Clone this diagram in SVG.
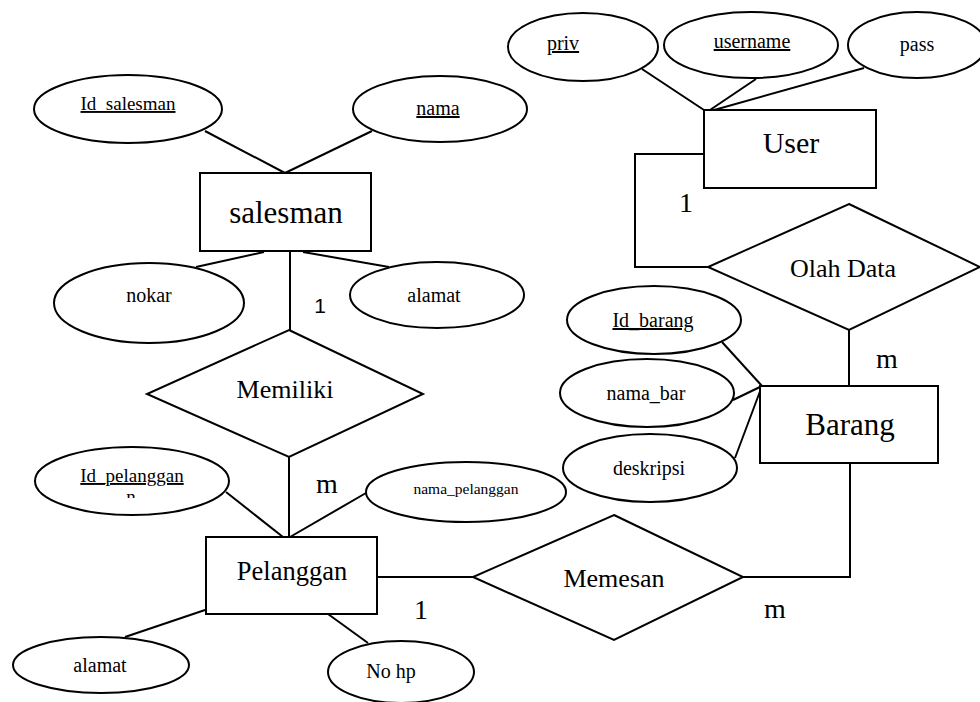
<svg xmlns="http://www.w3.org/2000/svg" width="980" height="702" viewBox="0 0 980 702">
  <style>
    .shape { fill: #ffffff; stroke: #000000; stroke-width: 2; }
    .conn { fill: none; stroke: #000000; stroke-width: 2; }
    .ent { font-family: "Liberation Serif", "Times New Roman", serif; font-size: 31px; fill: #000; text-anchor: middle; }
    .rel { font-family: "Liberation Serif", "Times New Roman", serif; font-size: 26px; fill: #000; text-anchor: middle; }
    .att { font-family: "Liberation Serif", "Times New Roman", serif; font-size: 20px; fill: #000; text-anchor: middle; }
    .att-sm { font-size: 19px; }
    .att-xs { font-size: 15.5px; }
    .ent-md { font-size: 26.5px; }
    .ent-user { font-size: 30px; }
    .key { text-decoration: underline; }
    .card { font-family: "Liberation Serif", "Times New Roman", serif; font-size: 28px; fill: #000; text-anchor: middle; }
    .card-sans { font-family: "Liberation Sans", Arial, sans-serif; font-size: 21px; fill: #000; text-anchor: middle; }
  </style>
  <defs>
    <clipPath id="idpel-clip">
      <rect x="100" y="440" width="120" height="58"/>
    </clipPath>
  </defs>
  <rect width="980" height="702" fill="#ffffff"/>

  <!-- connectors -->
  <g id="connectors" class="conn">
    <line x1="205" y1="131" x2="285" y2="173"/>
    <line x1="372" y1="131" x2="285" y2="173"/>
    <line x1="196" y1="267" x2="264" y2="252"/>
    <line x1="303" y1="252" x2="389" y2="267"/>
    <line x1="290" y1="252" x2="290" y2="330"/>
    <line x1="289" y1="457" x2="289" y2="537"/>
    <line x1="226" y1="492" x2="283" y2="537"/>
    <line x1="366" y1="493" x2="290" y2="537"/>
    <line x1="205" y1="610" x2="125" y2="637"/>
    <line x1="328" y1="614" x2="368" y2="643"/>
    <line x1="377" y1="577" x2="473" y2="577"/>
    <polyline points="743,577 850,577 850,463"/>
    <line x1="849" y1="330" x2="849" y2="386"/>
    <polyline points="704,154 635,154 635,267 708,267"/>
    <line x1="642" y1="69" x2="707" y2="112"/>
    <line x1="756" y1="79" x2="707" y2="112"/>
    <line x1="864" y1="68" x2="707" y2="112"/>
    <line x1="722" y1="342" x2="762" y2="386"/>
    <line x1="733" y1="400" x2="762" y2="386"/>
    <line x1="735" y1="458" x2="762" y2="386"/>
  </g>

  <!-- salesman entity and attributes -->
  <g id="attr-id-salesman">
    <ellipse class="shape" cx="128" cy="109" rx="94" ry="34"/>
    <text class="att att-sm key" x="128" y="110">Id_salesman</text>
  </g>
  <g id="attr-nama">
    <ellipse class="shape" cx="440" cy="109" rx="87" ry="33"/>
    <text class="att key" x="438" y="115">nama</text>
  </g>
  <g id="salesman">
    <rect class="shape" x="200" y="173" width="171" height="78"/>
    <text class="ent" x="286" y="223">salesman</text>
  </g>
  <g id="attr-nokar">
    <ellipse class="shape" cx="149" cy="303" rx="95" ry="40"/>
    <text class="att" x="149" y="302">nokar</text>
  </g>
  <g id="attr-alamat-salesman">
    <ellipse class="shape" cx="437" cy="295" rx="87" ry="33"/>
    <text class="att" x="434" y="302">alamat</text>
  </g>

  <!-- Memiliki relationship -->
  <g id="memiliki">
    <polygon class="shape" points="289,330 423,394 289,457 147,394"/>
    <text class="rel" x="285" y="398">Memiliki</text>
  </g>

  <!-- Pelanggan entity and attributes -->
  <g id="attr-id-pelanggan">
    <ellipse class="shape" cx="132" cy="481" rx="97" ry="34"/>
    <text class="att att-sm key" x="132" y="482">Id_pelanggan</text>
    <text class="att att-sm" x="131" y="503" clip-path="url(#idpel-clip)">n</text>
  </g>
  <g id="attr-nama-pelanggan">
    <ellipse class="shape" cx="466" cy="492" rx="100" ry="30"/>
    <text class="att att-xs" x="466" y="494">nama_pelanggan</text>
  </g>
  <g id="pelanggan">
    <rect class="shape" x="206" y="537" width="171" height="77"/>
    <text class="ent ent-md" x="292" y="580">Pelanggan</text>
  </g>
  <g id="attr-alamat-pelanggan">
    <ellipse class="shape" cx="101" cy="665" rx="88" ry="28"/>
    <text class="att" x="100" y="672">alamat</text>
  </g>
  <g id="attr-nohp">
    <ellipse class="shape" cx="401" cy="672" rx="73" ry="31"/>
    <text class="att" x="391" y="678">No hp</text>
  </g>

  <!-- Memesan relationship -->
  <g id="memesan">
    <polygon class="shape" points="614,515 743,577 614,640 473,577"/>
    <text class="rel" x="614" y="587">Memesan</text>
  </g>

  <!-- User entity and attributes -->
  <g id="attr-priv">
    <ellipse class="shape" cx="583" cy="47" rx="75" ry="34"/>
    <text class="att key" x="563" y="50">priv</text>
  </g>
  <g id="attr-username">
    <ellipse class="shape" cx="751" cy="45" rx="87" ry="33"/>
    <text class="att key" x="752" y="48">username</text>
  </g>
  <g id="attr-pass">
    <ellipse class="shape" cx="917" cy="45" rx="69" ry="33"/>
    <text class="att" x="917" y="51">pass</text>
  </g>
  <g id="user">
    <rect class="shape" x="704" y="110" width="172" height="78"/>
    <text class="ent ent-user" x="791" y="153">User</text>
  </g>

  <!-- Olah Data relationship -->
  <g id="olah-data">
    <polygon class="shape" points="849,204 980,267 849,330 708,267"/>
    <text class="rel" x="843" y="277">Olah Data</text>
  </g>

  <!-- Barang entity and attributes -->
  <g id="attr-id-barang">
    <ellipse class="shape" cx="654" cy="320" rx="87" ry="34"/>
    <text class="att key" x="653" y="327">Id_barang</text>
  </g>
  <g id="attr-nama-bar">
    <ellipse class="shape" cx="647" cy="393" rx="87" ry="34"/>
    <text class="att" x="646" y="400">nama_bar</text>
  </g>
  <g id="attr-deskripsi">
    <ellipse class="shape" cx="650" cy="468" rx="87" ry="34"/>
    <text class="att" x="649" y="475">deskripsi</text>
  </g>
  <g id="barang">
    <rect class="shape" x="760" y="386" width="178" height="77"/>
    <text class="ent" x="850" y="435">Barang</text>
  </g>

  <!-- cardinality labels -->
  <g id="cardinalities">
    <text class="card-sans" x="320" y="313">1</text>
    <text class="card" x="327" y="493">m</text>
    <text class="card" x="686" y="212">1</text>
    <text class="card" x="887" y="368">m</text>
    <text class="card" x="421" y="619">1</text>
    <text class="card" x="775" y="618">m</text>
  </g>
</svg>
